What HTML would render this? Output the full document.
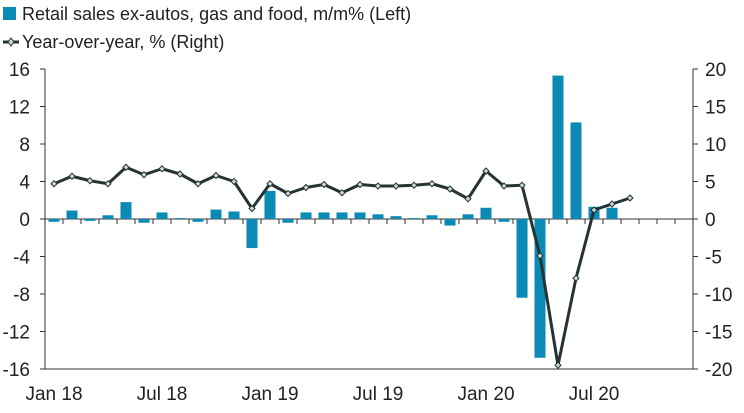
<!DOCTYPE html>
<html><head><meta charset="utf-8">
<style>
body{margin:0;background:#fff;}
svg{display:block;font-family:"Liberation Sans Narrow","Liberation Sans",sans-serif;}
</style></head>
<body>
<svg id="chart" width="744" height="413" viewBox="0 0 744 413">
  <g>
    <rect x="3" y="7" width="13" height="13" fill="#0a8ab5"/>
    <text x="22" y="20" font-size="18" fill="#222">Retail sales ex-autos, gas and food, m/m% (Left)</text>
    <line x1="3" y1="42" x2="19" y2="42" stroke="#253333" stroke-width="3"/>
    <path d="M11 38 L14 42 L11 46 L8 42 Z" fill="#cfd6d6" stroke="#253333" stroke-width="1"/>
    <text x="22" y="48" font-size="18" fill="#222">Year-over-year, % (Right)</text>
  </g>
  <g id="axes"></g>
  <g id="bars"></g>
  <g id="line"></g>
</svg>
<script>
const months = ["Jan 18","Feb 18","Mar 18","Apr 18","May 18","Jun 18","Jul 18","Aug 18","Sep 18","Oct 18","Nov 18","Dec 18","Jan 19","Feb 19","Mar 19","Apr 19","May 19","Jun 19","Jul 19","Aug 19","Sep 19","Oct 19","Nov 19","Dec 19","Jan 20","Feb 20","Mar 20","Apr 20","May 20","Jun 20","Jul 20","Aug 20","Sep 20","Oct 20","Nov 20","Dec 20"];
const momValues = [-0.3,0.9,-0.2,0.4,1.8,-0.4,0.7,0.1,-0.3,1.0,0.8,-3.1,3.0,-0.4,0.7,0.7,0.7,0.7,0.5,0.3,0.1,0.4,-0.7,0.5,1.2,-0.3,-8.4,-14.8,15.3,10.3,1.3,1.2];
const yoyValues = [4.7,5.7,5.1,4.7,6.9,5.9,6.7,6.0,4.7,5.8,5.0,1.4,4.7,3.4,4.2,4.6,3.5,4.6,4.4,4.4,4.5,4.7,4.0,2.7,6.4,4.4,4.5,-4.9,-19.5,-7.9,1.2,2.0,2.8];
const leftTicks = [16,12,8,4,0,-4,-8,-12,-16];
const rightTicks = [20,15,10,5,0,-5,-10,-15,-20];
const xLabels = ["Jan 18","Jul 18","Jan 19","Jul 19","Jan 20","Jul 20"];

const NS="http://www.w3.org/2000/svg";
const X0=45, X1=693, Y0=69, Y1=369;
const step=(X1-X0)/months.length;
const xC=i=>X0+step*(i+0.5);
const yL=v=>Y0+(16-v)/32*(Y1-Y0);
const yR=v=>Y0+(20-v)/40*(Y1-Y0);
function mk(tag,attrs,parent){const e=document.createElementNS(NS,tag);for(const k in attrs)e.setAttribute(k,attrs[k]);parent.appendChild(e);return e;}
const axes=document.getElementById('axes');
// left axis
let la=mk('line',{x1:X0,y1:Y0,x2:X0,y2:Y1,stroke:'#333','stroke-width':1},axes);


leftTicks.forEach(v=>{
  mk('line',{x1:X0-5,y1:yL(v),x2:X0,y2:yL(v),stroke:'#333'},axes);
  const t=mk('text',{x:30,y:yL(v)+7,'text-anchor':'end','font-size':19,fill:'#222'},axes);
  t.textContent=v;
  
  
});
let ra=mk('line',{x1:X1,y1:Y0,x2:X1,y2:Y1,stroke:'#333','stroke-width':1},axes);


rightTicks.forEach(v=>{
  mk('line',{x1:X1,y1:yR(v),x2:X1+5,y2:yR(v),stroke:'#333'},axes);
  const t=mk('text',{x:705,y:yR(v)+7,'font-size':19,fill:'#222'},axes);
  t.textContent=v;
  
  
});
let za=mk('line',{x1:X0,y1:yL(0),x2:X1,y2:yL(0),stroke:'#333'},axes);


for(let i=0;i<=months.length;i++) mk('line',{x1:X0+step*i,y1:yL(0),x2:X0+step*i,y2:yL(0)+5,stroke:'#333'},axes);
let ba=mk('line',{x1:X0,y1:Y1,x2:X1,y2:Y1,stroke:'#333'},axes);


xLabels.forEach(l=>{
  const i=months.indexOf(l);
  const t=mk('text',{x:xC(i),y:400,'text-anchor':'middle','font-size':19,fill:'#222'},axes);
  t.textContent=l;
  
  
});
const bars=document.getElementById('bars');
momValues.forEach((v,i)=>{
  const y=Math.min(yL(v),yL(0)),h=Math.abs(yL(v)-yL(0));
  const r=mk('rect',{x:xC(i)-5.5,y:y,width:11,height:h,fill:'#0a8ab5'},bars);
  
  
});
const lg=document.getElementById('line');
const pts=yoyValues.map((v,i)=>xC(i)+','+yR(v)).join(' ');
const pl=mk('polyline',{points:pts,fill:'none',stroke:'#253333','stroke-width':3,'stroke-linejoin':'round'},lg);


yoyValues.forEach((v,i)=>{
  const x=xC(i),y=yR(v);
  const p=mk('path',{d:`M${x} ${y-3}L${x+3} ${y}L${x} ${y+3}L${x-3} ${y}Z`,fill:'#cfd6d6',stroke:'#253333','stroke-width':1},lg);
  
  
});
</script>
</body></html>
